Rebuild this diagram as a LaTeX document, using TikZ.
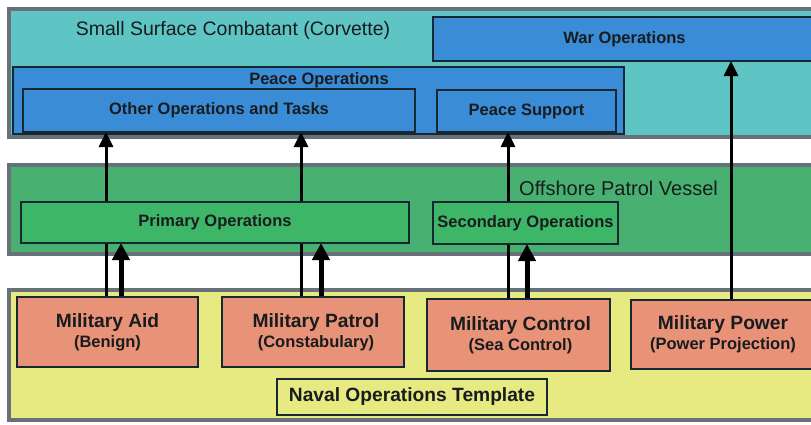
\documentclass[tikz,border=0pt]{standalone}
\usepackage{fontspec}
\setmainfont{Liberation Sans}
\usetikzlibrary{arrows.meta}
\definecolor{tealband}{RGB}{94,196,196}
\definecolor{bluebox}{RGB}{58,140,214}
\definecolor{greenband}{RGB}{72,176,112}
\definecolor{greenbox}{RGB}{62,182,104}
\definecolor{yellowband}{RGB}{230,234,128}
\definecolor{salmon}{RGB}{232,146,120}
\definecolor{bandgray}{RGB}{104,112,122}
\definecolor{boxline}{RGB}{22,40,50}
\definecolor{ink}{RGB}{25,28,30}
\pgfdeclarelayer{back}
\pgfdeclarelayer{mid}
\pgfsetlayers{back,mid,main}
\tikzset{
  band/.style={draw=bandgray, line width=3.5pt, rectangle, anchor=north west, inner sep=0pt, outer sep=0pt},
  box/.style={draw=boxline, line width=1.2pt, rectangle, anchor=north west, inner sep=0pt, outer sep=0pt, text=ink, font=\fontsize{16.5}{18}\selectfont\bfseries},
  opbox/.style={box, fill=salmon, align=center, font=\fontsize{19.2}{21}\selectfont\bfseries},
  lbl/.style={text=ink, inner sep=0pt},
  thinarr/.style={draw=black, line width=3pt, -{Triangle[width=14pt,length=15pt]}},
  thickarr/.style={draw=black, line width=5pt, -{Triangle[width=17pt,length=17pt]}}
}
\newcommand{\sub}[1]{\\[-1pt]{\fontsize{16.5}{18}\selectfont #1}}
\begin{document}
\begin{tikzpicture}[x=1pt,y=-1pt]
\clip (0,0) rectangle (811,424);
\begin{pgfonlayer}{back}
\fill[white] (0,0) rectangle (811,424);
% bands
\node[band, fill=tealband, minimum width=830pt, minimum height=128pt] (corv) at (9,9) {};
\node[band, fill=greenband, minimum width=830pt, minimum height=89pt] (opv) at (9,165) {};
\node[band, fill=yellowband, minimum width=830pt, minimum height=130pt] (tmpl) at (9,290) {};
% peace operations container
\node[box, fill=bluebox, minimum width=611pt, minimum height=67pt] (peace) at (13,67) {};
\end{pgfonlayer}
\node[lbl, font=\fontsize{19.5}{21}\selectfont] (corvlbl) at (233,30) {Small Surface Combatant (Corvette)};
\node[lbl, font=\fontsize{20}{22}\selectfont] (opvlbl) at (618.5,188) {Offshore Patrol Vessel};
\node[lbl, font=\fontsize{16.5}{18}\selectfont\bfseries] (peacelbl) at (319,80) {Peace Operations};
% upper boxes
\node[box, fill=bluebox, minimum width=383pt, minimum height=44pt] (war) at (433,17) {\makebox[383pt]{War Operations}};
\node[box, fill=bluebox, minimum width=392pt, minimum height=43pt] (other) at (23,89) {\makebox[392pt]{Other Operations and Tasks}};
\node[box, fill=bluebox, minimum width=179pt, minimum height=42pt] (psup) at (437,90) {\makebox[179pt]{Peace Support}};
% middle boxes
\node[box, fill=greenbox, minimum width=388pt, minimum height=41pt] (prim) at (21,202) {\makebox[388pt]{Primary Operations}};
\node[box, fill=greenbox, minimum width=185pt, minimum height=42pt] (sec) at (433,202) {\makebox[185pt]{Secondary Operations}};
% bottom boxes
\node[opbox, minimum width=181pt, minimum height=70pt] (aid) at (17,297) {Military Aid\sub{(Benign)}};
\node[opbox, minimum width=182pt, minimum height=70pt] (patrol) at (222,297) {\hspace*{6pt}Military Patrol\sub{\hspace*{6pt}(Constabulary)}};
\node[opbox, minimum width=183pt, minimum height=72pt] (control) at (427,299) {\hspace*{4pt}Military Control\sub{\hspace*{4pt}(Sea Control)}};
\node[opbox, minimum width=184pt, minimum height=69pt] (power) at (631,300) {Military Power\sub{(Power Projection)}};
\node[box, fill=yellowband, minimum width=270pt, minimum height=36pt, font=\fontsize{19.2}{21}\selectfont\bfseries] (naval) at (277,379) {\makebox[270pt]{Naval Operations Template}};
% connectors
\begin{pgfonlayer}{mid}
\draw[thinarr] ([xshift=-1.5pt]aid.north) -- ([xshift=-1.5pt]aid.north |- other.south);
\draw[thickarr] ([xshift=13.5pt]aid.north) -- ([xshift=13.5pt]aid.north |- prim.south);
\draw[thinarr] ([xshift=-12pt]patrol.north) -- ([xshift=-12pt]patrol.north |- other.south);
\draw[thickarr] ([xshift=8pt]patrol.north) -- ([xshift=8pt]patrol.north |- prim.south);
\draw[thinarr] ([xshift=-10.5pt]control.north) -- ([xshift=-10.5pt]control.north |- psup.south);
\draw[thickarr] ([xshift=8.5pt]control.north) -- ([xshift=8.5pt]control.north |- sec.south);
\draw[thinarr] ([xshift=8pt]power.north) -- ([xshift=8pt]power.north |- war.south);
\end{pgfonlayer}
\end{tikzpicture}
\end{document}
